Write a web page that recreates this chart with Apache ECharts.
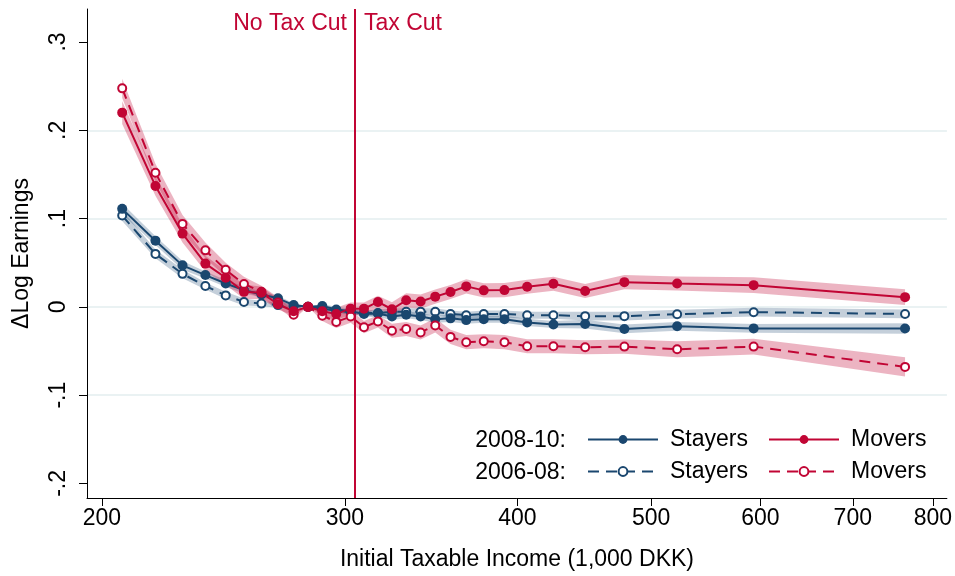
<!DOCTYPE html>
<html>
<head>
<meta charset="utf-8">
<script src="https://cdn.jsdelivr.net/npm/echarts@6/dist/echarts.min.js"></script>
<style>
  html, body { margin: 0; padding: 0; background: #fff; }
  #chart { width: 955px; height: 576px; }
</style>
</head>
<body>
<div id="chart"></div>
<script>
// Initial taxable income per bin (1,000 DKK)
const income = [206.9, 218.7, 228.8, 237.7, 245.9, 253.5, 261.0, 268.3, 275.4, 282.1,
                288.9, 295.7, 302.9, 309.7, 317.0, 324.5, 332.3, 340.4, 348.8, 357.8,
                367.3, 378.2, 391.5, 406.6, 424.8, 447.9, 478.2, 522.2, 593.3, 763.8];

// Change in log earnings, 2008-10
const stayers0810 = [0.111, 0.075, 0.047, 0.036, 0.0265, 0.019, 0.014, 0.0097, 0.002, 0,
                     0.001, -0.003, -0.005, -0.008, -0.0076, -0.011, -0.009, -0.011, -0.014, -0.013,
                     -0.015, -0.014, -0.014, -0.0176, -0.020, -0.0195, -0.025, -0.022, -0.0244, -0.0245];
const movers0810 = [0.220, 0.137, 0.083, 0.049, 0.033, 0.017, 0.016, 0.003, -0.005, 0,
                    -0.005, -0.008, -0.002, -0.002, 0.0056, -0.0027, 0.0074, 0.006, 0.0116, 0.0168,
                    0.0232, 0.0187, 0.019, 0.0228, 0.0262, 0.018, 0.028, 0.0265, 0.0246, 0.011];

// Change in log earnings, 2006-08
const stayers0608 = [0.1034, 0.060, 0.0374, 0.0236, 0.013, 0.0056, 0.0037, 0.002, 0.001, 0,
                     -0.002, -0.0045, -0.006, -0.007, -0.007, -0.0056, -0.0056, -0.0056, -0.0056, -0.008,
                     -0.0094, -0.008, -0.008, -0.0094, -0.0094, -0.0105, -0.0105, -0.0083, -0.006, -0.008];
const movers0608 = [0.2475, 0.152, 0.094, 0.064, 0.042, 0.026, 0.017, 0.005, -0.009, 0,
                    -0.010, -0.017, -0.011, -0.023, -0.0165, -0.027, -0.025, -0.029, -0.021, -0.034,
                    -0.040, -0.039, -0.040, -0.0446, -0.0446, -0.0457, -0.045, -0.048, -0.045, -0.068];

// 95% confidence half-widths
const ciStayers0810 = [0.006, 0.005, 0.005, 0.004, 0.004, 0.004, 0.003, 0.003, 0.002, 0,
                       0.002, 0.003, 0.003, 0.003, 0.004, 0.004, 0.004, 0.004, 0.004, 0.004,
                       0.004, 0.004, 0.004, 0.004, 0.004, 0.005, 0.005, 0.005, 0.005, 0.006];
const ciMovers0810 = [0.013, 0.011, 0.010, 0.009, 0.008, 0.008, 0.007, 0.006, 0.005, 0,
                      0.006, 0.007, 0.007, 0.007, 0.007, 0.008, 0.008, 0.008, 0.008, 0.008,
                      0.008, 0.008, 0.008, 0.008, 0.008, 0.008, 0.008, 0.008, 0.009, 0.009];
const ciStayers0608 = [0.006, 0.005, 0.005, 0.004, 0.004, 0.004, 0.003, 0.003, 0.002, 0,
                       0.002, 0.003, 0.003, 0.003, 0.004, 0.004, 0.004, 0.004, 0.004, 0.004,
                       0.004, 0.004, 0.004, 0.004, 0.004, 0.005, 0.005, 0.005, 0.005, 0.005];
const ciMovers0608 = [0.011, 0.010, 0.010, 0.009, 0.008, 0.008, 0.007, 0.006, 0.005, 0,
                      0.006, 0.007, 0.007, 0.007, 0.007, 0.008, 0.008, 0.008, 0.008, 0.008,
                      0.008, 0.008, 0.008, 0.008, 0.008, 0.008, 0.008, 0.009, 0.009, 0.011];

const taxCutThreshold = 303.5;
const xTicks = [200, 300, 400, 500, 600, 700, 800];
const yTicks = [-0.2, -0.1, 0, 0.1, 0.2, 0.3];
const yGridValues = [-0.1, 0, 0.1, 0.2];

const NAVY = '#1a476f';
const RED = '#c10534';
const FONT = '"Liberation Sans", Arial, Helvetica, sans-serif';

// x axis is logarithmic in income
const lx = v => Math.log(v);
const toPoints = vals => income.map((x, i) => [lx(x), vals[i]]);

// confidence band: polygon through upper bounds, back along lower bounds
function band(vals, ci, color) {
  return {
    type: 'custom', silent: true, z: 2, clip: true,
    data: [[lx(income[0]), vals[0]]],
    renderItem: (params, api) => {
      const upper = income.map((x, i) => api.coord([lx(x), vals[i] + ci[i]]));
      const lower = income.map((x, i) => api.coord([lx(x), vals[i] - ci[i]])).reverse();
      return {
        type: 'polygon', silent: true,
        shape: { points: upper.concat(lower) },
        style: { fill: color }
      };
    }
  };
}

function line(name, vals, color, hollow) {
  return {
    name: name, type: 'line', data: toPoints(vals), z: 4,
    symbol: hollow ? 'emptyCircle' : 'circle',
    symbolSize: hollow ? 8 : 10,
    lineStyle: { color: color, width: 2, type: hollow ? [11, 7] : 'solid' },
    itemStyle: { color: color, borderColor: color, borderWidth: hollow ? 2 : 0 },
    emphasis: { disabled: true }
  };
}

const chart = echarts.init(document.getElementById('chart'), null, { renderer: 'canvas' });

const legendCommon = {
  orient: 'horizontal', itemWidth: 70, itemHeight: 11, padding: 0, selectedMode: false,
  formatter: name => name.split(' ')[0],
  textStyle: { fontFamily: FONT, fontSize: 23, color: '#000', padding: [0, 0, 0, 7] }
};

const option = {
  animation: false,
  backgroundColor: '#fff',
  textStyle: { fontFamily: FONT },
  grid: { left: 87, right: 7, top: 9, bottom: 74 },
  xAxis: {
    type: 'value',
    min: lx(195.1), max: lx(819),
    name: 'Initial Taxable Income (1,000 DKK)',
    nameLocation: 'middle', nameGap: 50,
    nameTextStyle: { fontFamily: FONT, fontSize: 23, color: '#000' },
    axisLine: { show: true, onZero: false, lineStyle: { color: '#000', width: 1 } },
    axisTick: { show: true, length: 8, customValues: xTicks.map(lx), lineStyle: { color: '#000' } },
    axisLabel: {
      customValues: xTicks.map(lx), margin: 9,
      formatter: v => String(Math.round(Math.exp(v))),
      fontFamily: FONT, fontSize: 23, color: '#000'
    },
    splitLine: { show: false }
  },
  yAxis: {
    type: 'value',
    min: -0.2165, max: 0.3374,
    name: '\u0394Log Earnings',
    nameLocation: 'middle', nameGap: 54,
    nameTextStyle: { fontFamily: FONT, fontSize: 23, color: '#000' },
    axisLine: { show: true, onZero: false, lineStyle: { color: '#000', width: 1 } },
    axisTick: { show: true, length: 8, customValues: yTicks, lineStyle: { color: '#000' } },
    axisLabel: {
      customValues: yTicks, rotate: 90, margin: 17,
      formatter: v => {
        const r = Math.round(v * 10) / 10;
        if (r === 0) return '0';
        return (r < 0 ? '-' : '') + String(Math.abs(r)).replace(/^0/, '');
      },
      fontFamily: FONT, fontSize: 23, color: '#000'
    },
    splitLine: { show: false }
  },
  legend: [
    Object.assign({}, legendCommon, { data: ['Stayers 2008-10'], left: 587, top: 428 }),
    Object.assign({}, legendCommon, { data: ['Movers 2008-10'], left: 768, top: 428 }),
    Object.assign({}, legendCommon, { data: ['Stayers 2006-08'], left: 587, top: 460 }),
    Object.assign({}, legendCommon, { data: ['Movers 2006-08'], left: 768, top: 460 })
  ],
  graphic: [
    { type: 'text', x: 566, y: 441,
      style: { text: '2008-10:', fontFamily: FONT, fontSize: 23, fill: '#000', align: 'right', verticalAlign: 'middle' } },
    { type: 'text', x: 566, y: 473,
      style: { text: '2006-08:', fontFamily: FONT, fontSize: 23, fill: '#000', align: 'right', verticalAlign: 'middle' } },
    { type: 'text', x: 347, y: 24,
      style: { text: 'No Tax Cut', fontFamily: FONT, fontSize: 23, fill: RED, align: 'right', verticalAlign: 'middle' } },
    { type: 'text', x: 364, y: 24,
      style: { text: 'Tax Cut', fontFamily: FONT, fontSize: 23, fill: RED, align: 'left', verticalAlign: 'middle' } }
  ],
  series: [
    // horizontal grid lines
    {
      name: 'grid', type: 'line', data: [], silent: true, z: 0,
      markLine: {
        silent: true, symbol: 'none', z: 0, animation: false,
        label: { show: false },
        lineStyle: { color: '#eaf2f3', width: 2, type: 'solid' },
        data: yGridValues.map(v => ({ yAxis: v }))
      }
    },
    band(stayers0608, ciStayers0608, 'rgba(26,71,111,0.26)'),
    band(stayers0810, ciStayers0810, 'rgba(26,71,111,0.26)'),
    band(movers0608, ciMovers0608, 'rgba(193,5,52,0.30)'),
    band(movers0810, ciMovers0810, 'rgba(193,5,52,0.30)'),
    // tax cut threshold
    {
      name: 'threshold', type: 'line', data: [], silent: true, z: 3,
      markLine: {
        silent: true, symbol: 'none', z: 3, animation: false,
        label: { show: false },
        lineStyle: { color: RED, width: 2, type: 'solid' },
        data: [{ xAxis: lx(taxCutThreshold) }]
      }
    },
    line('Stayers 2006-08', stayers0608, NAVY, true),
    line('Stayers 2008-10', stayers0810, NAVY, false),
    line('Movers 2006-08', movers0608, RED, true),
    line('Movers 2008-10', movers0810, RED, false)
  ]
};

chart.setOption(option);
</script>
</body>
</html>
